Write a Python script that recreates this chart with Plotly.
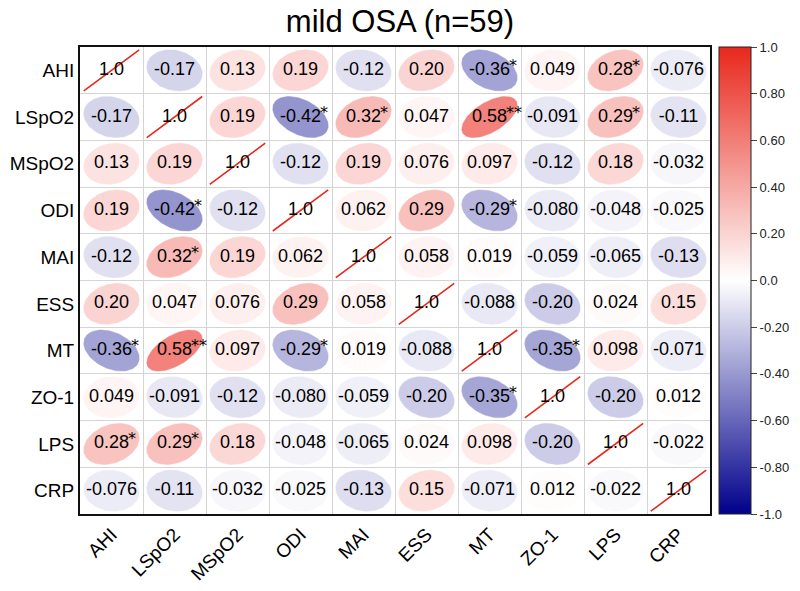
import numpy as np
import plotly.graph_objects as go
from plotly.colors import sample_colorscale

# ---------------- data ----------------
variables = ["AHI", "LSpO2", "MSpO2", "ODI", "MAI", "ESS", "MT", "ZO-1", "LPS", "CRP"]

r_AHI   = [1.0, -0.17, 0.13, 0.19, -0.12, 0.20, -0.36, 0.049, 0.28, -0.076]
r_LSpO2 = [-0.17, 1.0, 0.19, -0.42, 0.32, 0.047, 0.58, -0.091, 0.29, -0.11]
r_MSpO2 = [0.13, 0.19, 1.0, -0.12, 0.19, 0.076, 0.097, -0.12, 0.18, -0.032]
r_ODI   = [0.19, -0.42, -0.12, 1.0, 0.062, 0.29, -0.29, -0.080, -0.048, -0.025]
r_MAI   = [-0.12, 0.32, 0.19, 0.062, 1.0, 0.058, 0.019, -0.059, -0.065, -0.13]
r_ESS   = [0.20, 0.047, 0.076, 0.29, 0.058, 1.0, -0.088, -0.20, 0.024, 0.15]
r_MT    = [-0.36, 0.58, 0.097, -0.29, 0.019, -0.088, 1.0, -0.35, 0.098, -0.071]
r_ZO1   = [0.049, -0.091, -0.12, -0.080, -0.059, -0.20, -0.35, 1.0, -0.20, 0.012]
r_LPS   = [0.28, 0.29, 0.18, -0.048, -0.065, 0.024, 0.098, -0.20, 1.0, -0.022]
r_CRP   = [-0.076, -0.11, -0.032, -0.025, -0.13, 0.15, -0.071, 0.012, -0.022, 1.0]

# significance marks: (row, col, stars) for upper triangle; mirrored below
significance = [
    ("AHI", "MT", "*"), ("AHI", "LPS", "*"),
    ("LSpO2", "ODI", "*"), ("LSpO2", "MAI", "*"), ("LSpO2", "MT", "**"), ("LSpO2", "LPS", "*"),
    ("ODI", "MT", "*"), ("MT", "ZO-1", "*"),
]

colorbar_ticks = [1.0, 0.8, 0.6, 0.4, 0.2, 0.0, -0.2, -0.4, -0.6, -0.8, -1.0]
colorbar_labels = ["1.0", "0.80", "0.60", "0.40", "0.20", "0.0", "-0.20", "-0.40", "-0.60", "-0.80", "-1.0"]

title_text = "mild OSA (n=59)"

# ---------------- build ----------------
R = np.array([r_AHI, r_LSpO2, r_MSpO2, r_ODI, r_MAI, r_ESS, r_MT, r_ZO1, r_LPS, r_CRP])
n = len(variables)
FONT = "Liberation Sans, Arial, sans-serif"
colorscale = [[0.0, "rgb(0,0,139)"], [0.5, "rgb(255,255,255)"], [1.0, "rgb(232,40,28)"]]
CELL_FONT = 18

stars = {}
for a, b, s in significance:
    i, j = variables.index(a), variables.index(b)
    stars[(i, j)] = s
    stars[(j, i)] = s

fig = go.Figure()

scale = 0.88
k = np.linspace(0, 2 * np.pi, 90)
for i in range(n):
    for j in range(n):
        r = R[i, j]
        d = np.arccos(np.clip(r, -1, 1))
        ex = np.cos(k + d / 2) / 2 * scale
        ey = np.cos(k - d / 2) / 2 * scale
        cx, cy = j + 0.5, i + 0.5
        col = sample_colorscale(colorscale, [(r + 1) / 2])[0]
        diag = abs(r) >= 0.999
        fig.add_trace(go.Scatter(
            x=cx + ex, y=cy - ey, mode="lines", fill="toself",
            fillcolor=col,
            line=dict(color=col, width=1.6 if diag else 0.5),
            hoverinfo="skip", showlegend=False,
        ))

# numbers
xs, ys, texts = [], [], []
for i in range(n):
    for j in range(n):
        xs.append(j + 0.5)
        ys.append(i + 0.5)
        texts.append("{:#.2g}".format(R[i, j]))
fig.add_trace(go.Scatter(
    x=xs, y=ys, text=texts, mode="text",
    textfont=dict(family=FONT, size=CELL_FONT, color="black"),
    hoverinfo="skip", showlegend=False,
))

# approximate Arial widths for placing stars right after the number
cw = {"-": 0.333, ".": 0.278}
def text_width(s, size):
    return sum(cw.get(c, 0.556) for c in s) * size

for (i, j), s in stars.items():
    t = "{:#.2g}".format(R[i, j])
    w = text_width(t, CELL_FONT)
    fig.add_annotation(
        x=j + 0.5, y=i + 0.5, xref="x", yref="y", text=s, showarrow=False,
        xanchor="left", yanchor="middle", xshift=w / 2 - 3, yshift=5,
        font=dict(family="DejaVu Sans, sans-serif", size=16, color="black"),
    )

# colorbar carrier
fig.add_trace(go.Scatter(
    x=[0.5, 0.5], y=[0.5, 0.5], mode="markers",
    marker=dict(size=1, opacity=0, color=[-1, 1], cmin=-1, cmax=1,
                colorscale=colorscale, showscale=True,
                colorbar=dict(
                    x=1.014, xanchor="left", xref="paper", y=0.5, yanchor="middle",
                    len=1.0, lenmode="fraction", thickness=32, xpad=0, ypad=0,
                    outlinewidth=1, outlinecolor="#222",
                    tickvals=colorbar_ticks, ticktext=colorbar_labels,
                    ticks="outside", ticklen=6, tickcolor="#444", tickwidth=1,
                    tickfont=dict(family=FONT, size=13, color="#222"),
                )),
    hoverinfo="skip", showlegend=False,
))

bounds = list(range(1, n))
fig.update_xaxes(
    range=[0, n], tickvals=[j + 0.5 for j in range(n)], ticktext=variables,
    tickangle=-45, tickfont=dict(family=FONT, size=19, color="black"),
    showgrid=False, zeroline=False, ticks="",
    showline=True, mirror=True, linecolor="#111", linewidth=2,
    minor=dict(tickvals=bounds, showgrid=True, gridcolor="#d4d4d4", gridwidth=1, ticks=""),
)
fig.update_yaxes(
    range=[n, 0], tickvals=[i + 0.5 for i in range(n)], ticktext=variables,
    tickfont=dict(family=FONT, size=19, color="black"),
    showgrid=False, zeroline=False, ticks="",
    showline=True, mirror=True, linecolor="#111", linewidth=2,
    minor=dict(tickvals=bounds, showgrid=True, gridcolor="#d4d4d4", gridwidth=1, ticks=""),
)

fig.update_layout(
    width=800, height=591,
    margin=dict(l=80, r=90, t=47, b=77, autoexpand=False),
    plot_bgcolor="white", paper_bgcolor="white",
    title=dict(text=title_text, x=0.5, xanchor="center", y=1 - 21 / 591, yanchor="middle",
               yref="container", font=dict(family=FONT, size=31, color="black")),
)

fig.write_html("out.html", config={"displayModeBar": False},
               post_script="document.body.style.margin='0';")
